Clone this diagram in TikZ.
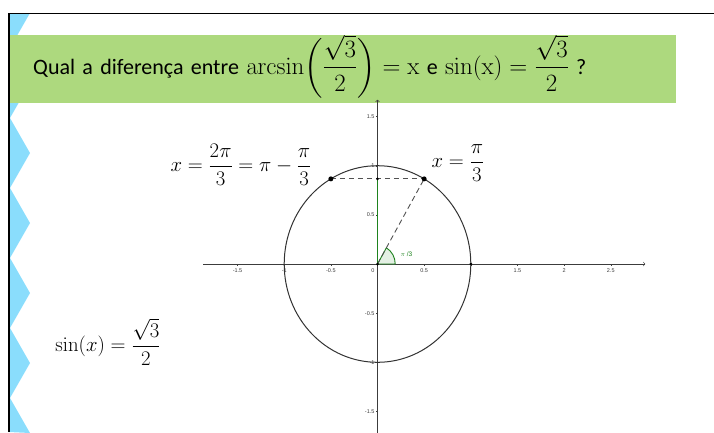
\documentclass[tikz,border=0pt]{standalone}
\usepackage{amsmath}
\usepackage[no-math]{fontspec}
\newfontfamily\titlefont{Carlito}
\setsansfont{Liberation Sans}

\definecolor{titlegreen}{RGB}{173,217,126}
\definecolor{zigblue}{RGB}{138,221,252}
\definecolor{axisgray}{RGB}{60,60,60}
\definecolor{curvegray}{RGB}{50,50,50}
\definecolor{anglegreen}{RGB}{30,130,30}

\begin{document}
\begin{tikzpicture}[x=1pt, y=-1pt,
  zig/.style={fill=zigblue},
  frame/.style={line width=1.6pt, black},
  titlebox/.style={fill=titlegreen, anchor=north west, minimum height=68pt, text height=14pt, text depth=4pt, text width=620pt, inner xsep=23pt, align=left, font=\titlefont\fontsize{22}{26}\selectfont},
  eq/.style={font=\fontsize{20}{24}\selectfont},
  axis/.style={draw=axisgray, line width=0.6pt, ->},
  ticklabel/.style={font=\sffamily\fontsize{5.5}{6}\selectfont, text=axisgray, inner sep=1pt},
  curve/.style={draw=curvegray, line width=1pt},
  helper/.style={draw=curvegray!85, line width=0.9pt, dash pattern=on 5.5pt off 3.5pt},
  dot/.style={circle, fill=black, inner sep=0pt, minimum size=5pt}
]
\useasboundingbox (0,0) rectangle (714,432);
\fill[zig] (9,13) foreach \k in {0,...,5} { -- (30,13+70*\k) -- (10,48+70*\k) } -- (30,433) -- (9,432) -- cycle;
\draw[frame] (9,432) -- (9,13.5) -- (714,13.5);
\node[titlebox] (title) at (10,35) {Qual a diferença entre {\fontsize{23}{26}\selectfont$\arcsin\biggl(\dfrac{\sqrt{3}}{2}\biggr) = \mathrm{x}$} e {\fontsize{23}{26}\selectfont$\sin(\mathrm{x}) = \dfrac{\sqrt{3}}{2}$} ?};

\begin{scope}[xshift=377.5pt, yshift=-264pt, x=93.3pt, y=98.3pt]
\coordinate (O) at (0,0);
\coordinate (A) at (1,0);
\coordinate (H) at (0,0.866);
\coordinate (P) at (0.5,0.866);
\coordinate (Q) at (-0.5,0.866);
\coordinate (xstart) at (-1.87,0);
\coordinate (xend) at (2.87,0);
\coordinate (ystart) at (0,-1.72);
\coordinate (yend) at (0,1.67);
\draw[axis] (xstart) -- (xend);
\draw[axis] (ystart) -- (yend);
\foreach \t [count=\i] in {-1.5,-1,-0.5,0.5,1.5,2,2.5} {
  \draw[axisgray, line width=0.4pt] (\t,0) -- (\t,-0.02);
  \node[ticklabel] (xl\i) at (\t,-0.07) {\t};
}
\draw[axisgray, line width=0.4pt] (1,0) -- (1,-0.02);
\foreach \t [count=\i] in {1.5,1,0.5,-0.5,-1,-1.5} {
  \draw[axisgray, line width=0.4pt] (0,\t) -- (-0.02,\t);
  \node[ticklabel, anchor=east] (yl\i) at (-0.02,\t) {\t};
}
\node[ticklabel] (zero) at (-0.05,-0.07) {0};
\filldraw[fill=anglegreen!12, draw=anglegreen, line width=0.9pt] (O) -- (0.19,0) arc[start angle=0, end angle=60, x radius=0.19, y radius=0.19] -- cycle;
\node[ticklabel, text=anglegreen, font=\sffamily\fontsize{6.5}{7}\selectfont] (ang) at (0.31,0.1) {$\pi$ /3};
\draw[curve] (O) circle[radius=1];
\draw[anglegreen, line width=1.1pt] (O) -- (H);
\draw[helper] (Q) -- (P);
\draw[helper] (O) -- (P);
\node[dot] (p) at (P) {};
\node[dot] (q) at (Q) {};
\node[dot, minimum size=3pt] (o) at (O) {};
\node[dot, minimum size=3pt] (h) at (H) {};
\node[dot, minimum size=3pt] (a) at (A) {};
\end{scope}

\node[eq] (xleft) at (241,165) {$x = \dfrac{2\pi}{3} = \pi - \dfrac{\pi}{3}$};
\node[eq] (xright) at (458,163) {$x = \dfrac{\pi}{3}$};
\node[eq] (sinx) at (108,342) {$\sin(x) = \dfrac{\sqrt{3}}{2}$};
\end{tikzpicture}
\end{document}
